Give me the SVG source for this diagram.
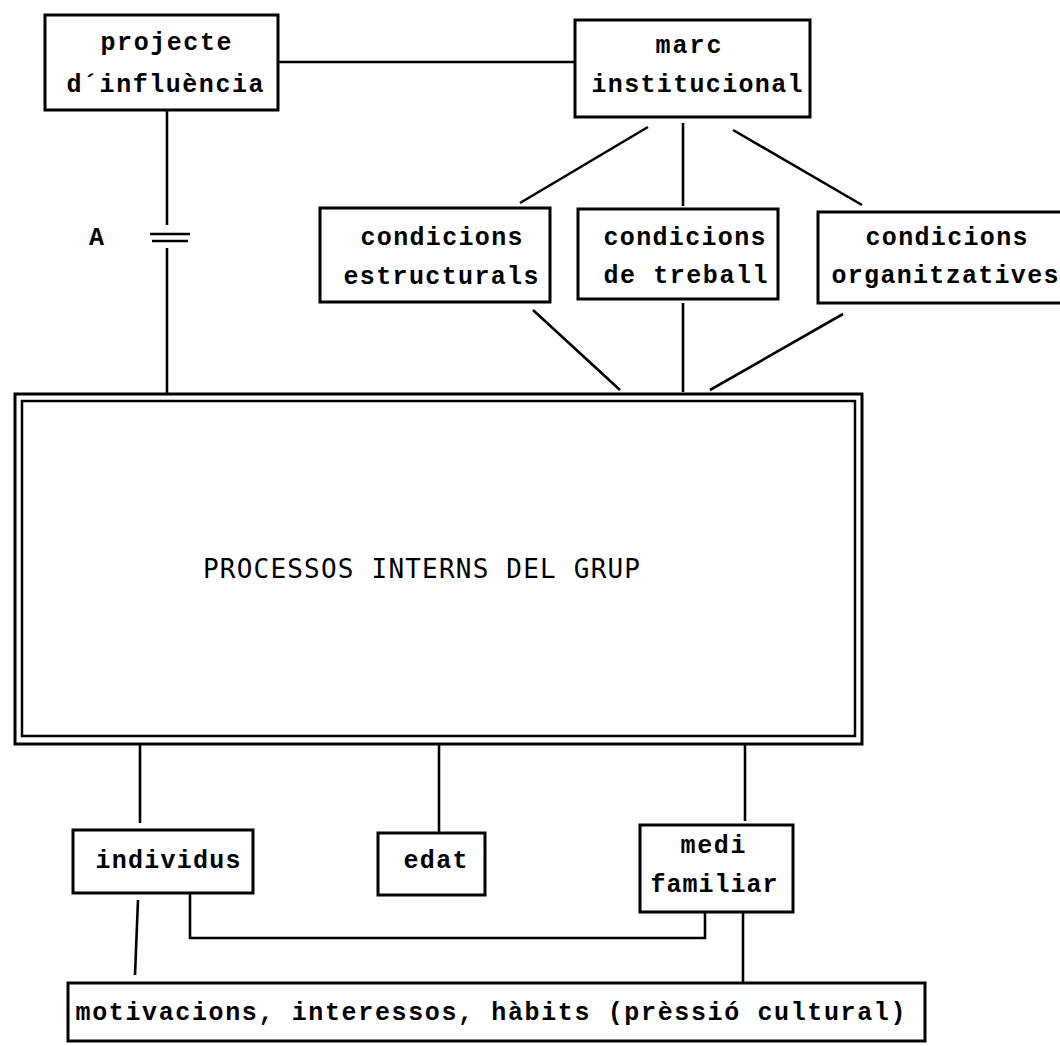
<svg xmlns="http://www.w3.org/2000/svg" width="1060" height="1046" viewBox="0 0 1060 1046">
  <style>
    .box { fill: #fff; stroke: #000; stroke-width: 3; }
    .link { fill: none; stroke: #000; stroke-width: 2.6; stroke-linecap: butt; }
    .t { font-family: "Liberation Mono", "Courier New", monospace; font-weight: bold; font-size: 25px; fill: #000; }
    .big { font-family: "DejaVu Sans Mono", "Liberation Mono", monospace; font-size: 26px; fill: #000; }
  </style>
  <rect width="1060" height="1046" fill="#fff"/>

  <!-- connectors -->
  <g id="connectors">
    <line class="link" x1="278" y1="62" x2="575" y2="62"/>
    <!-- projecte -> group, broken at A -->
    <line class="link" x1="167" y1="110" x2="167" y2="225"/>
    <line class="link" x1="150" y1="234" x2="190" y2="234"/>
    <line class="link" x1="152" y1="241" x2="188" y2="241"/>
    <line class="link" x1="167" y1="248" x2="167" y2="393"/>
    <!-- marc -> conditions -->
    <line class="link" x1="648" y1="127" x2="520" y2="203"/>
    <line class="link" x1="683" y1="123" x2="683" y2="206"/>
    <line class="link" x1="733" y1="130" x2="862" y2="205"/>
    <!-- conditions -> group -->
    <line class="link" x1="533" y1="310" x2="620" y2="390"/>
    <line class="link" x1="683" y1="303" x2="683" y2="392"/>
    <line class="link" x1="843" y1="314" x2="710" y2="390"/>
    <!-- group -> lower nodes -->
    <line class="link" x1="140" y1="745" x2="140" y2="823"/>
    <line class="link" x1="439" y1="745" x2="439" y2="833"/>
    <line class="link" x1="745" y1="745" x2="745" y2="821"/>
    <!-- individus -> motivacions -->
    <line class="link" x1="138" y1="900" x2="135" y2="975"/>
    <!-- individus <-> medi familiar -->
    <polyline class="link" points="190,893 190,938 705,938 705,912"/>
    <!-- medi familiar -> motivacions -->
    <line class="link" x1="743" y1="912" x2="743" y2="983"/>
  </g>

  <text class="t" x="89" y="245" font-size="26">A</text>

  <g id="projecte">
    <rect class="box" x="45" y="15" width="233" height="95"/>
    <text class="t" x="100.5" y="50" textLength="131" lengthAdjust="spacing">projecte</text>
    <text class="t" x="66.5" y="92" textLength="197" lengthAdjust="spacing">d´influència</text>
  </g>

  <g id="marc">
    <rect class="box" x="575" y="20" width="235" height="97"/>
    <text class="t" x="655.5" y="53" textLength="66" lengthAdjust="spacing">marc</text>
    <text class="t" x="591.5" y="92" textLength="211" lengthAdjust="spacing">institucional</text>
  </g>

  <g id="estructurals">
    <rect class="box" x="320" y="208" width="230" height="94"/>
    <text class="t" x="360.5" y="245" textLength="162" lengthAdjust="spacing">condicions</text>
    <text class="t" x="343.5" y="284" textLength="195" lengthAdjust="spacing">estructurals</text>
  </g>

  <g id="treball">
    <rect class="box" x="578" y="209" width="200" height="90"/>
    <text class="t" x="603.5" y="245" textLength="162" lengthAdjust="spacing">condicions</text>
    <text class="t" x="603.5" y="283" textLength="164" lengthAdjust="spacing">de treball</text>
  </g>

  <g id="organitzatives">
    <rect class="box" x="818" y="212" width="250" height="91"/>
    <text class="t" x="865.5" y="245" textLength="162" lengthAdjust="spacing">condicions</text>
    <text class="t" x="831.5" y="283" textLength="227" lengthAdjust="spacing">organitzatives</text>
  </g>

  <g id="grup">
    <rect x="15" y="394" width="847" height="350" fill="#fff" stroke="#000" stroke-width="3"/>
    <rect x="22" y="401" width="833" height="335" fill="none" stroke="#000" stroke-width="2.5"/>
    <text class="big" x="203" y="578" textLength="437" lengthAdjust="spacing">PROCESSOS INTERNS DEL GRUP</text>
  </g>

  <g id="individus">
    <rect class="box" x="73" y="830" width="180" height="63"/>
    <text class="t" x="95.5" y="868" textLength="145" lengthAdjust="spacing">individus</text>
  </g>

  <g id="edat">
    <rect class="box" x="378" y="833" width="107" height="62"/>
    <text class="t" x="403.5" y="868" textLength="64" lengthAdjust="spacing">edat</text>
  </g>

  <g id="medi">
    <rect class="box" x="640" y="825" width="153" height="87"/>
    <text class="t" x="680.5" y="853" textLength="65" lengthAdjust="spacing">medi</text>
    <text class="t" x="650.5" y="892" textLength="127" lengthAdjust="spacing">familiar</text>
  </g>

  <g id="motivacions">
    <rect class="box" x="68" y="983" width="857" height="58"/>
    <text class="t" x="75.5" y="1020" textLength="830" lengthAdjust="spacing">motivacions, interessos, hàbits (prèssió cultural)</text>
  </g>
</svg>
